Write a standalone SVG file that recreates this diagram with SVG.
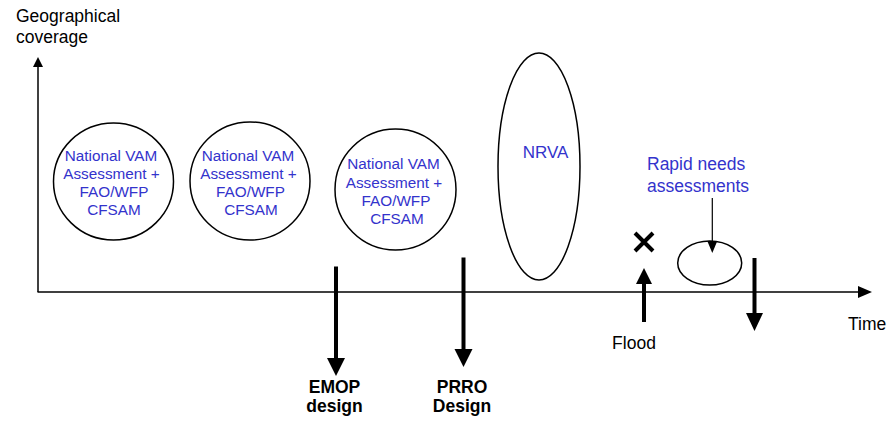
<svg xmlns="http://www.w3.org/2000/svg" width="887" height="421" viewBox="0 0 887 421">
<defs>
<style>
.lbl{font-family:"Liberation Sans",Arial,sans-serif;font-size:17.5px;fill:#000}
.bold{font-weight:bold}
.blue{font-family:"Liberation Sans",Arial,sans-serif;fill:#3333CC}
.c{font-size:15.3px;text-anchor:middle}
.node{fill:#fff;stroke:#000;stroke-width:1.5}
.ax{stroke:#000;stroke-width:1.5;fill:none}
.big{stroke:#000;stroke-width:4;fill:none}
</style>
</defs>
<rect width="887" height="421" fill="#fff"/>
<g id="axes">
<line class="ax" x1="38" y1="292" x2="38" y2="66"/>
<polygon points="38,57 33,67 43,67" fill="#000"/>
<line class="ax" x1="37.5" y1="292" x2="860" y2="292"/>
<polygon points="872,292 858,286 858,298" fill="#000"/>
<text class="lbl" x="16" y="22">Geographical</text>
<text class="lbl" x="16" y="43">coverage</text>
<text class="lbl" x="848" y="330">Time</text>
</g>
<g id="node1">
<ellipse class="node" cx="113.5" cy="181.5" rx="60" ry="58.5"/>
<text class="blue c" x="111" y="161">National VAM</text>
<text class="blue c" x="111.5" y="179">Assessment +</text>
<text class="blue c" x="114" y="197">FAO/WFP</text>
<text class="blue c" x="114" y="215">CFSAM</text>
</g>
<g id="node2">
<ellipse class="node" cx="250" cy="181" rx="60" ry="59"/>
<text class="blue c" x="248" y="161">National VAM</text>
<text class="blue c" x="248.5" y="179">Assessment +</text>
<text class="blue c" x="250.5" y="197">FAO/WFP</text>
<text class="blue c" x="251" y="215">CFSAM</text>
</g>
<g id="node3">
<ellipse class="node" cx="395.5" cy="189.5" rx="60.5" ry="60.5"/>
<text class="blue c" x="393.5" y="169">National VAM</text>
<text class="blue c" x="394" y="188">Assessment +</text>
<text class="blue c" x="396" y="206">FAO/WFP</text>
<text class="blue c" x="397" y="224">CFSAM</text>
</g>
<g id="nrva">
<ellipse class="node" cx="539" cy="166.5" rx="41" ry="113.5"/>
<text class="blue" x="545.5" y="158" font-size="17" text-anchor="middle">NRVA</text>
</g>
<g id="rapid">
<ellipse class="node" cx="709.7" cy="263" rx="32" ry="22"/>
<text class="blue" x="647" y="170" font-size="17.5">Rapid needs</text>
<text class="blue" x="647" y="192" font-size="17.5">assessments</text>
</g>
<g id="flood">
<path d="M635,233 L653,251 M653,233 L635,251" stroke="#000" stroke-width="4"/>
<text class="lbl" x="634" y="349" text-anchor="middle">Flood</text>
</g>
<g id="emop">
<text class="lbl bold" x="334.5" y="393" text-anchor="middle">EMOP</text>
<text class="lbl bold" x="334.5" y="412" text-anchor="middle">design</text>
</g>
<g id="prro">
<text class="lbl bold" x="462" y="393" text-anchor="middle">PRRO</text>
<text class="lbl bold" x="462" y="412" text-anchor="middle">Design</text>
</g>
<g id="connectors">
<line class="big" x1="336" y1="266.5" x2="336" y2="359"/>
<polygon points="336,376 327,358 345,358" fill="#000"/>
<line class="big" x1="463.5" y1="257.5" x2="463.5" y2="350"/>
<polygon points="463.5,367 454.5,349 472.5,349" fill="#000"/>
<line class="big" x1="644" y1="322" x2="644" y2="282"/>
<polygon points="644,268 636,284 652,284" fill="#000"/>
<line class="big" x1="754.5" y1="258" x2="754.5" y2="314"/>
<polygon points="754.5,331 746,313 763,313" fill="#000"/>
<line x1="712.3" y1="198" x2="712.3" y2="243" stroke="#000" stroke-width="1.2"/>
<polygon points="712.3,253 707.3,241 717.3,241" fill="#000"/>
</g>
</svg>
